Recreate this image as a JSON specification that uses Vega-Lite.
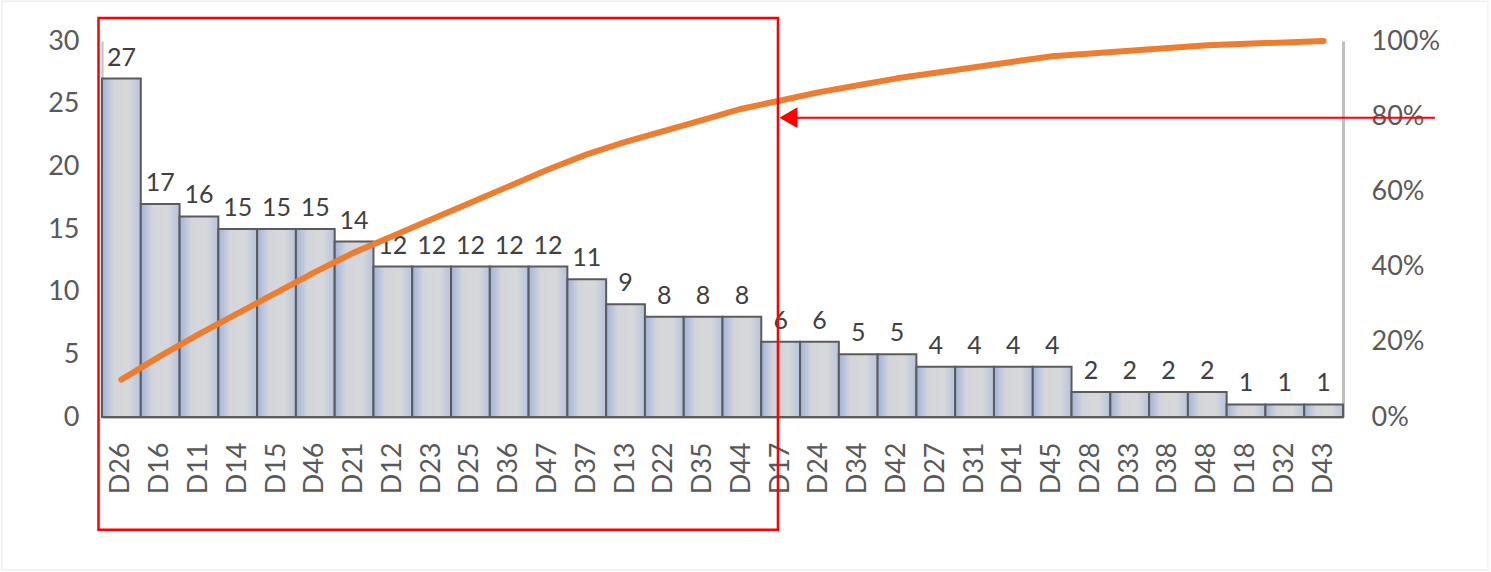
{
  "$schema": "https://vega.github.io/schema/vega-lite/v6.json",
  "autosize": {"type": "none"},
  "width": 1241,
  "height": 376,
  "padding": {"left": 102, "top": 41, "right": 148, "bottom": 155},
  "background": "white",
  "config": {
    "view": {"stroke": null},
    "font": "Lato",
    "axis": {"labelFont": "Lato", "labelColor": "#595959", "grid": false, "ticks": false, "title": null}
  },
  "datasets": {
    "pareto": [
      {"id": "D26", "count": 27, "cum": 0.0993},
      {"id": "D16", "count": 17, "cum": 0.1618},
      {"id": "D11", "count": 16, "cum": 0.2206},
      {"id": "D14", "count": 15, "cum": 0.2757},
      {"id": "D15", "count": 15, "cum": 0.3309},
      {"id": "D46", "count": 15, "cum": 0.3860},
      {"id": "D21", "count": 14, "cum": 0.4375},
      {"id": "D12", "count": 12, "cum": 0.4816},
      {"id": "D23", "count": 12, "cum": 0.5257},
      {"id": "D25", "count": 12, "cum": 0.5699},
      {"id": "D36", "count": 12, "cum": 0.6140},
      {"id": "D47", "count": 12, "cum": 0.6581},
      {"id": "D37", "count": 11, "cum": 0.6985},
      {"id": "D13", "count": 9, "cum": 0.7316},
      {"id": "D22", "count": 8, "cum": 0.7610},
      {"id": "D35", "count": 8, "cum": 0.7904},
      {"id": "D44", "count": 8, "cum": 0.8199},
      {"id": "D17", "count": 6, "cum": 0.8419},
      {"id": "D24", "count": 6, "cum": 0.8640},
      {"id": "D34", "count": 5, "cum": 0.8824},
      {"id": "D42", "count": 5, "cum": 0.9007},
      {"id": "D27", "count": 4, "cum": 0.9154},
      {"id": "D31", "count": 4, "cum": 0.9301},
      {"id": "D41", "count": 4, "cum": 0.9449},
      {"id": "D45", "count": 4, "cum": 0.9596},
      {"id": "D28", "count": 2, "cum": 0.9669},
      {"id": "D33", "count": 2, "cum": 0.9743},
      {"id": "D38", "count": 2, "cum": 0.9816},
      {"id": "D48", "count": 2, "cum": 0.9890},
      {"id": "D18", "count": 1, "cum": 0.9926},
      {"id": "D32", "count": 1, "cum": 0.9963},
      {"id": "D43", "count": 1, "cum": 1.0}
    ],
    "one": [{}]
  },
  "layer": [
    {
      "data": {"name": "pareto"},
      "layer": [
        {
          "mark": {
            "type": "bar",
            "stroke": "#5b5b5b",
            "strokeWidth": 2,
            "fill": {
              "gradient": "linear", "x1": 0, "y1": 0, "x2": 1, "y2": 0,
              "stops": [
                {"offset": 0, "color": "#a2b3da"},
                {"offset": 0.3, "color": "#d3d5da"},
                {"offset": 0.7, "color": "#d7d8db"},
                {"offset": 1, "color": "#b6c2dd"}
              ]
            }
          },
          "encoding": {
            "x": {
              "field": "id", "type": "nominal", "sort": null,
              "scale": {"type": "band", "paddingInner": 0, "paddingOuter": 0},
              "axis": {
                "labelAngle": -90, "labelFontSize": 27, "labelPadding": 25,
                "domainColor": "#bfbfbf", "domainWidth": 3
              }
            },
            "y": {
              "field": "count", "type": "quantitative",
              "scale": {"domain": [0, 30], "nice": false},
              "axis": {
                "values": [0, 5, 10, 15, 20, 25, 30], "labelFontSize": 27, "labelPadding": 23,
                "domainColor": "#bfbfbf", "domainWidth": 2
              }
            }
          }
        },
        {
          "mark": {"type": "text", "baseline": "bottom", "dy": -8, "fontSize": 25, "color": "#404040"},
          "encoding": {
            "x": {"field": "id", "type": "nominal", "sort": null},
            "y": {"field": "count", "type": "quantitative", "scale": {"domain": [0, 30], "nice": false}},
            "text": {"field": "count", "type": "quantitative"}
          }
        }
      ]
    },
    {
      "data": {"name": "pareto"},
      "mark": {"type": "line", "color": "#ed7d31", "strokeWidth": 6, "strokeCap": "round", "strokeJoin": "round"},
      "encoding": {
        "x": {
          "field": "id", "type": "nominal", "sort": null,
          "scale": {"type": "point", "padding": 0.5}, "axis": null
        },
        "y": {
          "field": "cum", "type": "quantitative",
          "scale": {"domain": [0, 1], "nice": false},
          "axis": {
            "orient": "right", "format": ".0%", "values": [0, 0.2, 0.4, 0.6, 0.8, 1],
            "labelFontSize": 27, "labelPadding": 28, "domainColor": "#bfbfbf", "domainWidth": 3
          }
        }
      }
    },
    {
      "data": {"name": "one"},
      "mark": {"type": "rect", "fill": null, "stroke": "#f0f0f0", "strokeWidth": 1.5},
      "encoding": {
        "x": {"datum": -2.58, "type": "quantitative", "scale": {"domain": [0, 32], "nice": false, "zero": false}, "axis": null},
        "x2": {"datum": 35.74},
        "y": {"datum": 1.106, "type": "quantitative", "scale": {"domain": [0, 1], "nice": false, "zero": false}, "axis": null},
        "y2": {"datum": -0.407}
      }
    },
    {
      "data": {"name": "one"},
      "mark": {"type": "rect", "fill": null, "stroke": "#ff0000", "strokeWidth": 2.5},
      "encoding": {
        "x": {"datum": -0.09, "type": "quantitative", "scale": {"domain": [0, 32], "nice": false, "zero": false}, "axis": null},
        "x2": {"datum": 17.43},
        "y": {"datum": 1.061, "type": "quantitative", "scale": {"domain": [0, 1], "nice": false, "zero": false}, "axis": null},
        "y2": {"datum": -0.30}
      }
    },
    {
      "data": {"name": "one"},
      "mark": {"type": "rule", "color": "#ff0000", "strokeWidth": 2},
      "encoding": {
        "x": {"datum": 17.6, "type": "quantitative", "scale": {"domain": [0, 32], "nice": false, "zero": false}, "axis": null},
        "x2": {"datum": 34.37},
        "y": {"datum": 0.796, "type": "quantitative", "scale": {"domain": [0, 1], "nice": false, "zero": false}, "axis": null}
      }
    },
    {
      "data": {"name": "one"},
      "mark": {"type": "point", "shape": "triangle-left", "filled": true, "color": "#ff0000", "size": 430, "opacity": 1},
      "encoding": {
        "x": {"datum": 17.7, "type": "quantitative", "scale": {"domain": [0, 32], "nice": false, "zero": false}, "axis": null},
        "y": {"datum": 0.796, "type": "quantitative", "scale": {"domain": [0, 1], "nice": false, "zero": false}, "axis": null}
      }
    }
  ],
  "resolve": {"scale": {"x": "independent", "y": "independent"}}
}
